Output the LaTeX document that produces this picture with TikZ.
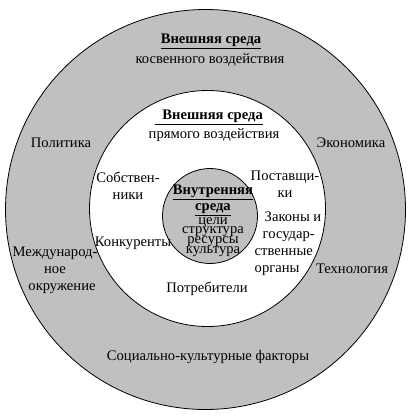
\documentclass[tikz,border=0pt]{standalone}
\usepackage{fontspec}
\setmainfont{Liberation Serif}
\usetikzlibrary{positioning}
\definecolor{envgray}{RGB}{192,192,192}
\newcommand\tightlines{\lineskiplimit=-20pt\relax\lineskip=0pt\relax}

\begin{document}
\begin{tikzpicture}[x=1pt, y=-1pt,
    zone/.style={circle, draw, line width=0.8pt, inner sep=0pt},
    factor/.style={inner sep=0pt, font=\fontsize{14.6}{17}\selectfont, align=center},
    heading/.style={inner sep=0pt, font=\fontsize{14.6}{16}\selectfont\bfseries\tightlines, align=center},
    inlist/.style={inner sep=0pt, font=\fontsize{14.6}{9.8}\selectfont\tightlines, align=center}
]
    \useasboundingbox (0,0) rectangle (417,415);

    % Круги
    \node[zone, fill=envgray, minimum size=400pt] (outer) at (205.5,209.5) {};
    \node[zone, fill=white, minimum size=236pt] (middle) at (207.5,208.5) {};
    \node[zone, fill=envgray, minimum size=95pt] (inner) at (210,216) {};

    % Внешняя среда косвенного воздействия
    \node[heading] (outtitle) at (211,41) {\underline{Внешняя среда}};
    \node[factor] (outsub) at (210,60) {косвенного воздействия};
    \node[factor] (politics) at (61,143) {Политика};
    \node[factor] (economy) at (351,143) {Экономика};
    \node[factor] (intl) at (55,270) {Международ-\\ное\\\hspace*{14pt}окружение};
    \node[factor] (tech) at (352,269) {Технология};
    \node[factor] (social) at (208,357) {Социально-культурные факторы};

    % Внешняя среда прямого воздействия
    \node[heading] (midtitle) at (209,117) {\underline{\ \ Внешняя среда}};
    \node[factor] (midsub) at (214,135) {прямого воздействия};
    \node[factor] (owners) at (128,186) {Собствен-\\ники};
    \node[factor] (suppliers) at (285,184) {Поставщи-\\ки};
    \node[factor] (rivals) at (133,243) {Конкуренты};
    \node[factor, align=left] (laws) at (288,244) {\hspace*{10pt}Законы и\\\hspace*{8pt}государ-\\ственные\\органы};
    \node[factor] (clients) at (207,289) {Потребители};

    % Внутренняя среда
    \node[heading] (intitle) at (213,200) {\underline{Внутренняя}\\\underline{среда}};
    \node[inlist] (inlist) at (213,237) {цели\\структура\\ресурсы\\культура};

\end{tikzpicture}
\end{document}
